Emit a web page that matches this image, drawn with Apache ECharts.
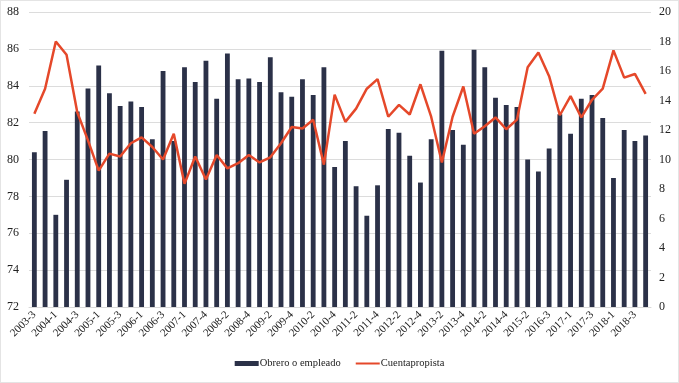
<!DOCTYPE html>
<html>
<head>
<meta charset="utf-8">
<script src="https://cdn.jsdelivr.net/npm/echarts@6/dist/echarts.min.js"></script>
<style>
  html, body { margin: 0; padding: 0; background: #fff; }
  #chart { width: 679px; height: 383px; box-sizing: border-box; border: 1px solid #e4e4e4; }
</style>
</head>
<body>
<div id="chart"></div>
<script>
var categories = [
  '2003-3', '2003-4', '2004-1', '2004-2', '2004-3', '2004-4',
  '2005-1', '2005-2', '2005-3', '2005-4', '2006-1', '2006-2', '2006-3', '2006-4',
  '2007-1', '2007-2', '2007-4',
  '2008-1', '2008-2', '2008-3', '2008-4',
  '2009-1', '2009-2', '2009-3', '2009-4',
  '2010-1', '2010-2', '2010-3', '2010-4',
  '2011-1', '2011-2', '2011-3', '2011-4',
  '2012-1', '2012-2', '2012-3', '2012-4',
  '2013-1', '2013-2', '2013-3', '2013-4',
  '2014-1', '2014-2', '2014-3', '2014-4',
  '2015-1', '2015-2', '2016-2', '2016-3', '2016-4',
  '2017-1', '2017-2', '2017-3', '2017-4',
  '2018-1', '2018-2', '2018-3', '2018-4'
];

// Obrero o empleado (eje izquierdo)
var obrero = [
  80.4, 81.55, 77.0, 78.9, 82.6, 83.85, 85.1, 83.6, 82.9, 83.15,
  82.85, 81.1, 84.8, 81.0, 85.0, 84.2, 85.35, 83.3, 85.75, 84.35,
  84.4, 84.2, 85.55, 83.65, 83.4, 84.35, 83.5, 85.0, 79.6, 81.0,
  78.55, 76.95, 78.6, 81.65, 81.45, 80.2, 78.75, 81.1, 85.9, 81.6,
  80.8, 85.95, 85.0, 83.35, 82.95, 82.85, 80.0, 79.35, 80.6, 82.45,
  81.4, 83.3, 83.5, 82.25, 79.0, 81.6, 81.0, 81.3
];

// Cuentapropista (eje derecho)
var cuentapropista = [
  13.1, 14.8, 18.0, 17.1, 13.2, 11.3, 9.25, 10.4, 10.2, 11.1,
  11.5, 10.85, 10.0, 11.75, 8.35, 10.2, 8.65, 10.3, 9.4, 9.75,
  10.3, 9.8, 10.15, 11.1, 12.2, 12.1, 12.7, 9.65, 14.4, 12.55,
  13.45, 14.8, 15.45, 12.9, 13.7, 13.05, 15.1, 12.9, 9.8, 12.9,
  14.95, 11.75, 12.25, 12.85, 12.05, 12.7, 16.25, 17.25, 15.65, 13.0,
  14.3, 12.85, 14.05, 14.8, 17.4, 15.55, 15.8, 14.45
];

var leftTicks = { min: 72, max: 88, interval: 2 };
var rightTicks = { min: 0, max: 20, interval: 2 };

var font = '"Liberation Serif", "DejaVu Serif", serif';
var chart = echarts.init(document.getElementById('chart'));
chart.setOption({
  backgroundColor: '#fff',
  textStyle: { fontFamily: font },
  animation: false,
  grid: { left: 28, right: 27, top: 11, bottom: 75 },
  legend: {
    bottom: 8,
    left: 'center',
    itemGap: 14,
    itemWidth: 24,
    itemHeight: 5,
    textStyle: { fontFamily: font, fontSize: 10.5, color: '#222', padding: [0, 0, 0, -4] },
    data: [
      { name: 'Obrero o empleado', icon: 'rect' },
      { name: 'Cuentapropista', itemStyle: { opacity: 0 } }
    ]
  },
  xAxis: {
    type: 'category',
    data: categories,
    axisLine: { lineStyle: { color: '#d9d9d9' } },
    axisTick: { show: false },
    axisLabel: {
      interval: 1,
      rotate: 45,
      fontSize: 11,
      color: '#222',
      fontFamily: font,
      margin: 6
    }
  },
  yAxis: [
    {
      type: 'value',
      min: leftTicks.min,
      max: leftTicks.max,
      interval: leftTicks.interval,
      axisLine: { show: false },
      axisTick: { show: false },
      axisLabel: { fontSize: 12, color: '#222', fontFamily: font, margin: 10 },
      splitLine: { lineStyle: { color: '#dcdcdc' } }
    },
    {
      type: 'value',
      min: rightTicks.min,
      max: rightTicks.max,
      interval: rightTicks.interval,
      axisLine: { show: false },
      axisTick: { show: false },
      axisLabel: { fontSize: 12, color: '#222', fontFamily: font, margin: 8 },
      splitLine: { show: false }
    }
  ],
  series: [
    {
      name: 'Obrero o empleado',
      type: 'bar',
      yAxisIndex: 0,
      data: obrero,
      barWidth: '45%',
      itemStyle: { color: '#2b3148' }
    },
    {
      name: 'Cuentapropista',
      type: 'line',
      yAxisIndex: 1,
      data: cuentapropista,
      symbol: 'none',
      lineStyle: { color: '#e5482a', width: 2.5 },
      itemStyle: { color: '#e5482a' }
    }
  ]
});
</script>
</body>
</html>
